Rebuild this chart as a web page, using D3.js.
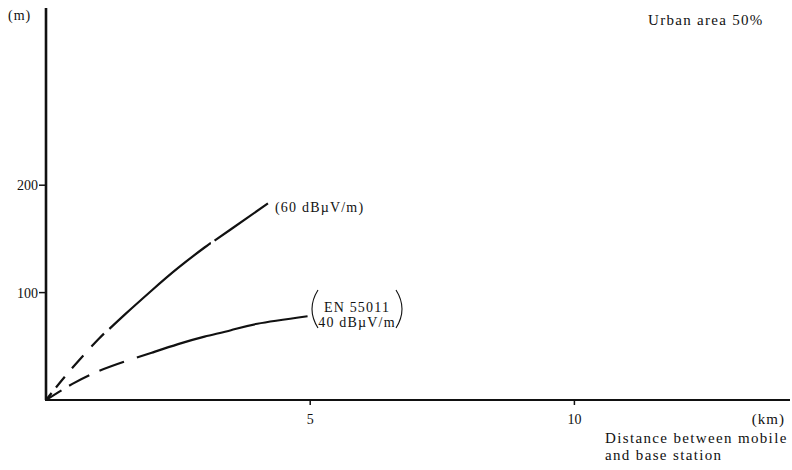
<!DOCTYPE html>
<html>
<head>
<meta charset="utf-8">
<script src="https://cdn.jsdelivr.net/npm/d3@7"></script>
<style>
body { margin: 0; background: #fff; }
text { font-family: "Liberation Serif", "DejaVu Serif", serif; fill: #111; }
</style>
</head>
<body>
<div id="chart"></div>
<script>
// curve values (km, m)
var upperKm = [0, 0.5, 1, 1.5, 2, 2.5, 3, 3.5, 4.2];
var upperM = [0, 30, 57, 80, 102, 123, 142, 159, 183];
var lowerKm = [0, 0.5, 1, 1.5, 2, 2.5, 3, 3.5, 4, 4.95];
var lowerM = [0, 15, 27, 36, 44, 52, 59, 65, 71, 78];
var xTicks = [5, 10];
var yTicks = [100, 200];

var width = 792, height = 470;
var x = d3.scaleLinear().domain([0, 14.08]).range([46, 790]);
var y = d3.scaleLinear().domain([0, 365]).range([400, 8]);

var svg = d3.select("#chart").append("svg").attr("width", width).attr("height", height);

// axes
svg.append("line").attr("x1", x(0)).attr("x2", x(0)).attr("y1", y(365)).attr("y2", y(0))
  .attr("stroke", "#111").attr("stroke-width", 2.6);
svg.append("line").attr("x1", x(0) - 1).attr("x2", x(14.08)).attr("y1", y(0)).attr("y2", y(0))
  .attr("stroke", "#111").attr("stroke-width", 2);

svg.selectAll(".yt").data(yTicks).enter().append("line")
  .attr("x1", x(0) - 7).attr("x2", x(0)).attr("y1", d => y(d)).attr("y2", d => y(d))
  .attr("stroke", "#111").attr("stroke-width", 1.5);
svg.selectAll(".ytl").data(yTicks).enter().append("text")
  .attr("x", x(0) - 8).attr("y", d => y(d) + 5).attr("text-anchor", "end")
  .attr("font-size", 14).text(d => d);

svg.selectAll(".xt").data(xTicks).enter().append("line")
  .attr("x1", d => x(d)).attr("x2", d => x(d)).attr("y1", y(0)).attr("y2", y(0) + 5)
  .attr("stroke", "#111").attr("stroke-width", 1.5);
svg.selectAll(".xtl").data(xTicks).enter().append("text")
  .attr("x", d => x(d)).attr("y", 424).attr("text-anchor", "middle")
  .attr("font-size", 14).text(d => d);

svg.append("text").attr("x", 8).attr("y", 20).attr("font-size", 14).attr("letter-spacing", 1).text("(m)");
svg.append("text").attr("x", 785).attr("y", 424).attr("text-anchor", "end").attr("font-size", 15).attr("letter-spacing", 1).text("(km)");
svg.append("text").attr("x", 605).attr("y", 443).attr("font-size", 15).attr("letter-spacing", 1.35).text("Distance between mobile");
svg.append("text").attr("x", 605).attr("y", 460).attr("font-size", 15).attr("letter-spacing", 1.35).text("and base station");
svg.append("text").attr("x", 648).attr("y", 25).attr("font-size", 15).attr("letter-spacing", 1.3).text("Urban area 50%");

// curves
var line = d3.line().x(d => x(d[0])).y(d => y(d[1])).curve(d3.curveNatural);
function part(km, m, a, b) {
  var pts = km.map((k, i) => [k, m[i]]);
  var inside = pts.filter(p => p[0] > a && p[0] < b);
  function at(v) {
    for (var i = 1; i < pts.length; i++) {
      if (v <= pts[i][0]) {
        var t = (v - pts[i - 1][0]) / (pts[i][0] - pts[i - 1][0]);
        return [v, pts[i - 1][1] + t * (pts[i][1] - pts[i - 1][1])];
      }
    }
    return pts[pts.length - 1];
  }
  return [at(a)].concat(inside, [at(b)]);
}
function draw(pts, dash) {
  svg.append("path").attr("d", line(pts)).attr("fill", "none")
    .attr("stroke", "#111").attr("stroke-width", 2.2)
    .attr("stroke-dasharray", dash || null);
}
// dashed start, then solid (with a small break on the upper curve)
draw(part(upperKm, upperM, 0, 1.2), "9,7,14,11,17,12,18,1000");
draw(part(upperKm, upperM, 1.2, 3.12), null);
draw(part(upperKm, upperM, 3.19, 4.2), null);
draw(part(lowerKm, lowerM, 0, 1.72), "18,9,23,11,26,1000");
draw(part(lowerKm, lowerM, 1.72, 4.95), null);

// labels
svg.append("text").attr("x", 275).attr("y", 212).attr("font-size", 14).attr("letter-spacing", 1.2).text("(60 dBµV/m)");
svg.append("text").attr("x", 357).attr("y", 312).attr("text-anchor", "middle").attr("font-size", 14).attr("letter-spacing", 1.2).text("EN 55011");
svg.append("text").attr("x", 357).attr("y", 327).attr("text-anchor", "middle").attr("font-size", 14).attr("letter-spacing", 1.2).text("40 dBµV/m");
svg.append("path").attr("d", "M318,290 Q306,309 318,328").attr("fill", "none").attr("stroke", "#111").attr("stroke-width", 1.1);
svg.append("path").attr("d", "M396,290 Q408,309 396,328").attr("fill", "none").attr("stroke", "#111").attr("stroke-width", 1.1);
</script>
</body>
</html>
